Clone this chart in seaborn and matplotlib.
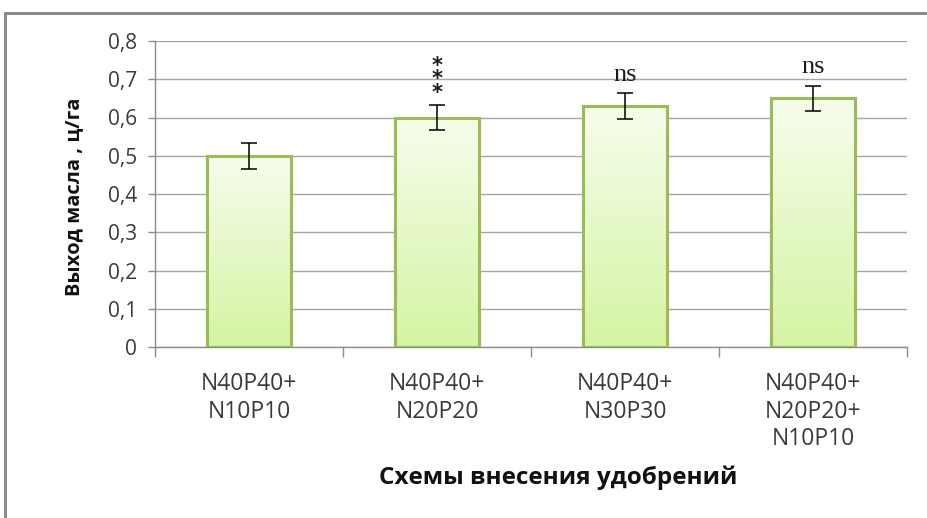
import numpy as np
import pandas as pd
import matplotlib
matplotlib.use("Agg")
import matplotlib.pyplot as plt
import matplotlib.patheffects as pe
from matplotlib.colors import LinearSegmentedColormap
from matplotlib.lines import Line2D
import seaborn as sns

# Data
schemes = ["N40P40+\nN10P10", "N40P40+\nN20P20", "N40P40+\nN30P30", "N40P40+\nN20P20+\nN10P10"]
oil_yield = [0.50, 0.60, 0.63, 0.65]
yield_err = [0.034, 0.033, 0.033, 0.033]
significance = ["", "***", "ns", "ns"]
y_ticks = [0, 0.1, 0.2, 0.3, 0.4, 0.5, 0.6, 0.7, 0.8]
y_tick_labels = ["0", "0,1", "0,2", "0,3", "0,4", "0,5", "0,6", "0,7", "0,8"]
y_title = "Выход масла , ц/га"
x_title = "Схемы внесения удобрений"

sns.set_theme(style="white")
plt.rcParams["font.family"] = ["Open Sans", "DejaVu Sans"]

df = pd.DataFrame({"scheme": schemes, "value": oil_yield})

fig = plt.figure(figsize=(9.28, 5.18), dpi=100)
ax = fig.add_axes([155 / 928, 1 - 347 / 518, 752 / 928, 306 / 518])

edge = "#9bbb59"
sns.barplot(data=df, x="scheme", y="value", ax=ax, width=0.45,
            color="#e8f9cf", edgecolor=edge, linewidth=2.2, errorbar=None,
            zorder=3)

# vertical gradient fill inside each bar
grad_cmap = LinearSegmentedColormap.from_list("bar_grad", ["#d5f4a2", "#f6fdec"])
grad = np.linspace(0, 1, 256).reshape(-1, 1)
for p in ax.patches:
    x0, y0 = p.get_x(), p.get_y()
    w, h = p.get_width(), p.get_height()
    im = ax.imshow(grad, cmap=grad_cmap, origin="lower", aspect="auto",
                   extent=[x0, x0 + w, y0, y0 + h], zorder=3.5)
    im.set_clip_path(p)
    p.set_path_effects([pe.SimplePatchShadow(offset=(1.5, -1.5), alpha=0.18), pe.Normal()])
    # redraw outline above the gradient
    ax.add_patch(plt.Rectangle((x0, y0), w, h, fill=False, edgecolor=edge,
                               linewidth=2.2, zorder=4))

xs = np.arange(len(schemes))
ax.errorbar(xs, oil_yield, yerr=yield_err, fmt="none", ecolor="black",
            elinewidth=1.1, capsize=6, capthick=1.1, zorder=5)

# significance marks above the error bars
for xi, v, e, s in zip(xs, oil_yield, yield_err, significance):
    if not s:
        continue
    if s.startswith("*"):
        ax.text(xi, v + e + 0.004, "\n".join(s), ha="center", va="bottom",
                fontsize=15, family="DejaVu Sans", fontweight="bold",
                linespacing=0.62, color="#1a1a1a", zorder=6)
    else:
        ax.text(xi, v + e + 0.033, s, ha="center", va="baseline",
                fontsize=19, family="Liberation Serif", color="#1a1a1a", zorder=6)

ax.set_xlim(-0.5, len(schemes) - 0.5)
ax.set_ylim(0, 0.8)
ax.set_yticks(y_ticks)
ax.set_yticklabels(y_tick_labels)
ax.yaxis.grid(True, color="#a6a6a6", linewidth=1.0, zorder=0)
ax.set_axisbelow(True)

for side in ("top", "right"):
    ax.spines[side].set_visible(False)
for side in ("left", "bottom"):
    ax.spines[side].set_color("#8c8c8c")
    ax.spines[side].set_linewidth(1.0)

ax.tick_params(axis="y", which="major", left=True, length=5, width=1,
               color="#8c8c8c", labelsize=15, labelcolor="#3a3a3a", pad=8)
ax.set_xticks(xs)
ax.set_xticklabels(schemes)
ax.tick_params(axis="x", which="major", bottom=True, length=0, labelsize=16.5,
               labelcolor="#3a3a3a", pad=18)
ax.set_xticks(np.arange(-0.5, len(schemes), 1.0), minor=True)
ax.tick_params(axis="x", which="minor", bottom=True, length=7, width=1,
               color="#8c8c8c")

ax.set_xlabel(x_title, fontsize=17.5, fontweight="bold", color="#111111")
ax.xaxis.set_label_coords((558 - 155) / 752, -(465 - 347) / 306)
ax.xaxis.label.set_va("top")
ax.set_ylabel(y_title, fontsize=14.5, fontweight="bold", color="#111111")
ax.yaxis.set_label_coords((84 - 155) / 752, (347 - 197) / 306)

# outer chart frame (left and top edges)
fig.add_artist(Line2D([5 / 928, 5 / 928], [0, 1 - 13 / 518], transform=fig.transFigure,
                      color="#8a8a8a", linewidth=2.2))
fig.add_artist(Line2D([5 / 928, 1], [1 - 13 / 518, 1 - 13 / 518], transform=fig.transFigure,
                      color="#8a8a8a", linewidth=2.2))

fig.savefig("out.png", dpi=100, facecolor="white")
